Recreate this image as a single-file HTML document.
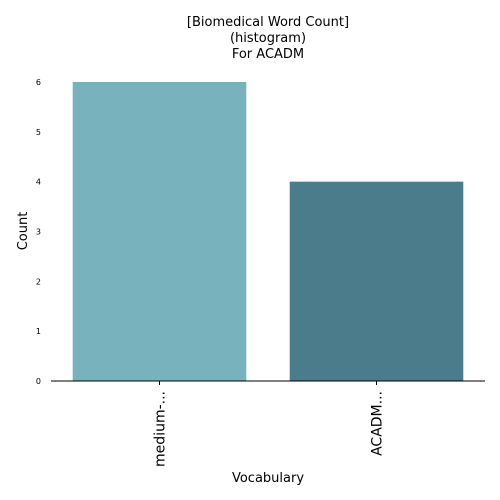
<!DOCTYPE html>
<html><head><meta charset="utf-8"><style>
body{margin:0;background:#fff;}
svg{display:block;font-family:"DejaVu Sans","Liberation Sans",sans-serif;}
</style></head><body>
<svg id="chart" width="500" height="500" viewBox="0 0 500 500">
<g>
<text x="268" y="26" text-anchor="middle" font-size="13">[Biomedical Word Count]</text>
<text x="268" y="42" text-anchor="middle" font-size="13">(histogram)</text>
<text x="268" y="58" text-anchor="middle" font-size="13"> For ACADM</text>
</g>
<g id="bars"></g>
<g id="yticks"></g>
<g id="xticks"></g>
<line x1="51" y1="381" x2="485" y2="381" stroke="#000" stroke-width="1"/>
<text transform="translate(27,231) rotate(-90)" text-anchor="middle" font-size="13">Count</text>
<text x="268" y="482" text-anchor="middle" font-size="13">Vocabulary</text>
</svg>
<script>
const categories=["medium-...","ACADM..."];
const values=[6,4];
const colors=["#78b2bc","#4a7c8c"];
const yTicks=[0,1,2,3,4,5,6];
const NS="http://www.w3.org/2000/svg";
const x0=51,x1=485,yBase=381,yTop=82,yMax=6;
const y=v=>yBase-(v/yMax)*(yBase-yTop);
const band=(x1-x0)/categories.length;
const bw=band*0.8;
const xc=i=>x0+band*(i+0.5);
const bars=document.getElementById('bars');
categories.forEach((c,i)=>{
 const r=document.createElementNS(NS,'rect');
 
 
 r.setAttribute('x',xc(i)-bw/2);r.setAttribute('width',bw);
 r.setAttribute('y',y(values[i]));r.setAttribute('height',yBase-y(values[i]));
 r.setAttribute('fill',colors[i%colors.length]);
 bars.appendChild(r);
 const g=document.getElementById('xticks');
 const t=document.createElementNS(NS,'line');
 
 
 t.setAttribute('x1',xc(i));t.setAttribute('x2',xc(i));t.setAttribute('y1',yBase);t.setAttribute('y2',yBase+4);
 t.setAttribute('stroke','#000');g.appendChild(t);
 const l=document.createElementNS(NS,'text');
 
 
 l.setAttribute('transform','translate('+(xc(i)+5)+','+(yBase+10)+') rotate(-90)');
 l.setAttribute('text-anchor','end');l.setAttribute('font-size','14');
 l.textContent=c;g.appendChild(l);
});
const yg=document.getElementById('yticks');
yTicks.forEach(v=>{
 const l=document.createElementNS(NS,'text');
 
 
 l.setAttribute('x',41);l.setAttribute('y',y(v)+3);
 l.setAttribute('text-anchor','end');l.setAttribute('font-size','8');
 l.textContent=v;yg.appendChild(l);
});
</script>
</body></html>
